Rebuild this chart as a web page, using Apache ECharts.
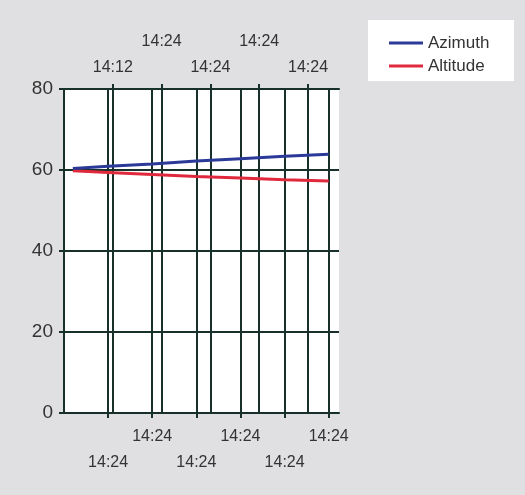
<!DOCTYPE html>
<html>
<head>
<meta charset="utf-8">
<script src="https://cdn.jsdelivr.net/npm/echarts@6/dist/echarts.min.js"></script>
<style>
  html, body { margin: 0; padding: 0; background: #e0e0e2; }
  #chart { width: 525px; height: 495px; }
</style>
</head>
<body>
<div id="chart"></div>
<script>
// Sample positions along the bottom time scale (one unit per tick)
const samplePositions = [0.2, 1, 2, 3, 4, 5, 6];
const azimuth = [60.4, 60.9, 61.5, 62.2, 62.8, 63.4, 63.9];
const altitude = [59.8, 59.4, 58.9, 58.4, 58.0, 57.6, 57.3];

// Tick labels of the two time scales
const bottomTickValues = [1, 2, 3, 4, 5, 6];
const bottomTickLabels = ['14:24', '14:24', '14:24', '14:24', '14:24', '14:24'];
const topTickValues = [1, 2, 3, 4, 5];
const topTickLabels = ['14:12', '14:24', '14:24', '14:24', '14:24'];

const yTicks = [0, 20, 40, 60, 80];

const gridColor = '#18302a';
const labelColor = '#333';
const font = 'Liberation Sans, Arial, sans-serif';

const chart = echarts.init(document.getElementById('chart'), null, { renderer: 'canvas' });

function pairs(xs, ys) { return xs.map((x, i) => [x, ys[i]]); }

// Staggered labels: alternate rows away from the axis
function bottomFormatter(v) {
  const i = bottomTickValues.indexOf(Math.round(v * 1000) / 1000);
  if (i < 0) return '';
  return i % 2 === 0 ? '\n' + bottomTickLabels[i] : bottomTickLabels[i];
}
function topFormatter(v) {
  const i = topTickValues.indexOf(Math.round(v * 1000) / 1000);
  if (i < 0) return '';
  return i % 2 === 0 ? topTickLabels[i] : topTickLabels[i] + '\n';
}

const lineStyle = { color: gridColor, width: 2 };

chart.setOption({
  backgroundColor: '#e0e0e2',
  animation: false,
  graphic: [{
    type: 'rect',
    shape: { x: 368, y: 20, width: 146, height: 61 },
    style: { fill: '#ffffff' },
    z: 0
  }],
  legend: {
    orient: 'vertical',
    left: 384,
    top: 28,
    itemWidth: 34,
    itemHeight: 3,
    itemGap: 3,
    icon: 'rect',
    textStyle: { fontFamily: font, fontSize: 17, color: labelColor, lineHeight: 20 },
    data: ['Azimuth', 'Altitude']
  },
  grid: { left: 64, top: 89, width: 275, height: 324, backgroundColor: '#ffffff', show: true, borderWidth: 0 },
  xAxis: [{
    type: 'value',
    position: 'bottom',
    min: 0,
    max: 6.233,
    interval: 1,
    axisLine: { show: true, onZero: false, lineStyle: lineStyle },
    axisTick: { show: true, length: 5, customValues: bottomTickValues, lineStyle: lineStyle },
    axisLabel: {
      customValues: bottomTickValues,
      formatter: bottomFormatter,
      margin: 11,
      fontFamily: font,
      fontSize: 16,
      lineHeight: 26,
      color: labelColor
    },
    splitLine: { show: true, lineStyle: lineStyle }
  }, {
    type: 'value',
    position: 'top',
    min: 0,
    max: 5.635,
    interval: 1,
    axisLine: { show: true, onZero: false, lineStyle: lineStyle },
    axisTick: { show: true, length: 5, customValues: topTickValues, lineStyle: lineStyle },
    axisLabel: {
      customValues: topTickValues,
      formatter: topFormatter,
      margin: 8,
      fontFamily: font,
      fontSize: 16,
      lineHeight: 26,
      color: labelColor
    },
    splitLine: { show: true, lineStyle: lineStyle }
  }],
  yAxis: {
    type: 'value',
    min: yTicks[0],
    max: yTicks[yTicks.length - 1],
    interval: 20,
    axisLine: { show: true, lineStyle: lineStyle },
    axisTick: { show: true, length: 5, lineStyle: lineStyle },
    axisLabel: { margin: 11, fontFamily: font, fontSize: 19, color: labelColor },
    splitLine: { show: true, lineStyle: lineStyle }
  },
  series: [{
    name: 'Azimuth',
    type: 'line',
    xAxisIndex: 0,
    data: pairs(samplePositions, azimuth),
    showSymbol: false,
    color: '#2b3a98',
    lineStyle: { width: 3, color: '#2b3a98' },
    z: 5
  }, {
    name: 'Altitude',
    type: 'line',
    xAxisIndex: 0,
    data: pairs(samplePositions, altitude),
    showSymbol: false,
    color: '#e0293c',
    lineStyle: { width: 3, color: '#e0293c' },
    z: 4
  }]
});
</script>
</body>
</html>
